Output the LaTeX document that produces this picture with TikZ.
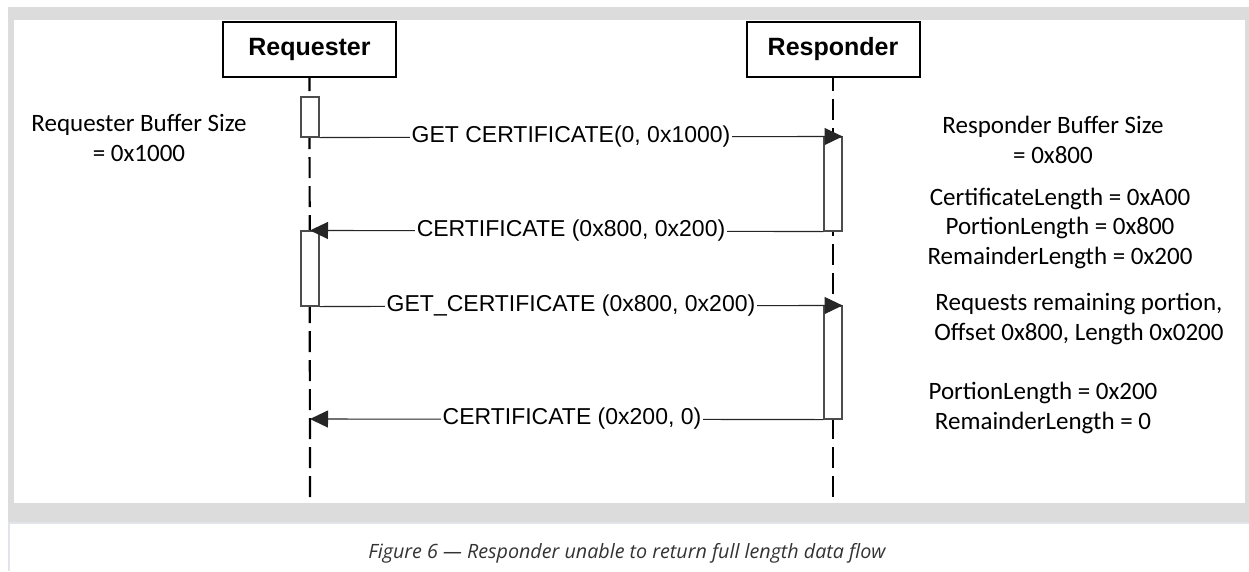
\documentclass[tikz,border=0pt]{standalone}
\usepackage{fontspec}
\setmainfont{Liberation Sans}
\newfontfamily\calfont{Carlito}
\newfontfamily\capfont{Open Sans}
\usetikzlibrary{arrows.meta}
\definecolor{framegray}{HTML}{DCDCDC}
\definecolor{capborder}{HTML}{E1E5EA}
\definecolor{captext}{HTML}{333333}
\tikzset{
  lifebox/.style={draw, line width=2pt, minimum width=173pt, minimum height=55pt, inner sep=0pt,
    font=\fontsize{25}{30}\selectfont\bfseries},
  actbox/.style={draw=black!70, fill=white, line width=1.1pt, minimum width=18pt, inner sep=0pt},
  lifeline/.style={line width=2.2pt, dash pattern=on 21pt off 8pt, dash phase=8pt},
  msg/.style={draw=black!85, line width=1.1pt, -{Triangle[length=18pt,width=17pt]}},
  msglabel/.style={fill=white, inner sep=1.5pt, font=\fontsize{23}{27}\selectfont},
  note/.style={align=center, inner sep=0pt, font=\calfont\fontsize{25}{29.5}\selectfont},
}
\begin{document}
\begin{tikzpicture}[x=1pt,y=-1pt]
\useasboundingbox (0,0) rectangle (1249,571);
% frame
\fill[framegray] (8,7) rectangle (1249,522);
\fill[white] (14,20) rectangle (1245,503);
\draw[capborder, line width=2pt] (9,571) -- (9,523) -- (1249,523);
% participants
\node[lifebox] (req) at (309.5,49.5) {Requester};
\node[lifebox] (resp) at (833,49.5) {Responder};
\coordinate (reqend) at (310,503);
\coordinate (respend) at (833,503);
\draw[lifeline] (req.south) -- (reqend);
\draw[lifeline] (resp.south) -- (respend);
% activations
\node[actbox, minimum height=40pt] (ra1) at (310,117) {};
\node[actbox, minimum height=94pt] (pa1) at (833,184) {};
\node[actbox, minimum height=75pt] (ra2) at (310,268.5) {};
\node[actbox, minimum height=113pt] (pa2) at (833,362.5) {};
\coordinate (m4end) at (310,419);
% messages
\draw[msg] (ra1.south east) -- (pa1.north east);
\node[msglabel] (l1) at (571,137) {GET CERTIFICATE(0, 0x1000)};
\draw[msg] (pa1.south west) -- (ra2.north);
\node[msglabel] (l2) at (571,231) {CERTIFICATE (0x800, 0x200)};
\draw[msg] (ra2.south east) -- (pa2.north east);
\node[msglabel] (l3) at (571,306) {GET\_CERTIFICATE (0x800, 0x200)};
\draw[msg] (pa2.south west) -- (m4end);
\node[msglabel] (l4) at (572,419) {CERTIFICATE (0x200, 0)};
% notes
\node[note] (n0) at (139,138) {Requester Buffer Size\\= 0x1000};
\node[note] (n1) at (1053,140) {Responder Buffer Size\\= 0x800};
\node[note] (n2) at (1060,228) {CertificateLength = 0xA00\\PortionLength = 0x800\\RemainderLength = 0x200};
\node[note] (n3) at (1079,319) {Requests remaining portion,\\Offset 0x800, Length 0x0200};
\node[note] (n4) at (1043,408) {PortionLength = 0x200\\RemainderLength = 0};
% caption
\node[text=captext, font=\capfont\itshape\fontsize{19.7}{23}\selectfont] (cap) at (627,553)
  {Figure 6 — Responder unable to return full length data flow};
\end{tikzpicture}
\end{document}
